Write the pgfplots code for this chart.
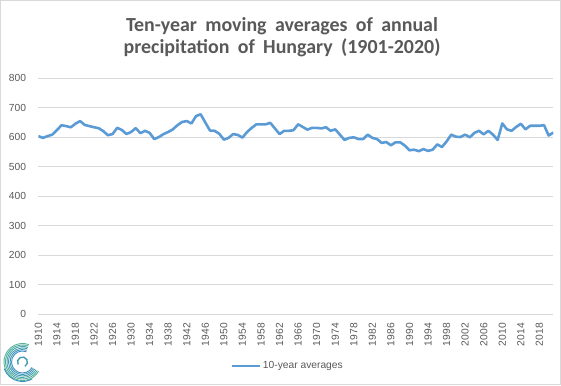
\documentclass[border=0pt]{standalone}
\usepackage{fontspec}
\setmainfont{Liberation Sans}
\newfontfamily\titlefont{Carlito}
\usepackage{pgfplots}
\pgfplotsset{compat=1.18}
\definecolor{linec}{HTML}{5B9BD5}
\definecolor{txt}{HTML}{595959}
\definecolor{gridc}{HTML}{D9D9D9}
\definecolor{logoA}{HTML}{5CBE88}
\definecolor{logoB}{HTML}{3A8EC2}
\newcommand{\ttl}{\titlefont\bfseries\fontsize{20}{24}\selectfont\spaceskip=0.42em\relax}
\begin{document}
\begin{tikzpicture}[x=1bp,y=1bp]
\useasboundingbox (0,0) rectangle (561,385);
\draw[gridc, line width=0.8bp] (0.4,0.4) rectangle (560.6,384.6);
\node[anchor=base, text=txt, font=\ttl, inner sep=0pt] at (282,354) {Ten-year moving averages of annual};
\node[anchor=base, text=txt, font=\ttl, inner sep=0pt] at (282,332) {precipitation of Hungary (1901-2020)};
\begin{axis}[
  at={(38.3bp,71bp)}, anchor=south west,
  scale only axis, width=515bp, height=236bp,
  xmin=1910, xmax=2021, ymin=0, ymax=800,
  xtick={1910,1914,...,2018},
  ytick={0,100,...,800},
  ymajorgrids, major grid style={gridc, line width=0.8bp},
  axis line style={draw=none},
  major tick length=0pt,
  tick label style={font=\fontsize{10.3}{12}\selectfont, text=txt},
  /pgf/number format/assume math mode=true,
  /pgf/number format/1000 sep={},
  xticklabel style={rotate=90, anchor=east, inner sep=0pt},
  yticklabel style={anchor=east, inner sep=0pt},
  xticklabel shift=9bp,
  yticklabel shift=12bp,
  legend style={draw=none, fill=none, at={(0.484,0)}, anchor=center, yshift=-52bp,
    font=\fontsize{10.3}{12}\selectfont, text=txt},
  legend image code/.code={\draw[#1] (0bp,0bp) -- (28bp,0bp);},
]
\addplot[linec, line width=2.6bp, line join=round] coordinates {
(1910,603) (1911,597) (1912,603) (1913,608) (1914,623) (1915,640) (1916,637) (1917,633) (1918,645) (1919,654)
(1920,641) (1921,637) (1922,633) (1923,630) (1924,620) (1925,606) (1926,610) (1927,631) (1928,624) (1929,610)
(1930,617) (1931,630) (1932,613) (1933,621) (1934,614) (1935,593) (1936,600) (1937,610) (1938,617) (1939,626)
(1940,640) (1941,651) (1942,654) (1943,646) (1944,671) (1945,677) (1946,649) (1947,622) (1948,621) (1949,611)
(1950,591) (1951,597) (1952,610) (1953,607) (1954,598) (1955,617) (1956,631) (1957,643) (1958,643) (1959,643)
(1960,648) (1961,629) (1962,610) (1963,621) (1964,621) (1965,623) (1966,643) (1967,634) (1968,625) (1969,631)
(1970,631) (1971,629) (1972,633) (1973,621) (1974,626) (1975,608) (1976,590) (1977,597) (1978,599) (1979,593)
(1980,593) (1981,608) (1982,597) (1983,593) (1984,580) (1985,583) (1986,572) (1987,582) (1988,582) (1989,571)
(1990,555) (1991,557) (1992,552) (1993,559) (1994,553) (1995,557) (1996,575) (1997,566) (1998,585) (1999,608)
(2000,601) (2001,600) (2002,608) (2003,599) (2004,614) (2005,621) (2006,609) (2007,621) (2008,608) (2009,590)
(2010,646) (2011,626) (2012,621) (2013,634) (2014,645) (2015,626) (2016,638) (2017,638) (2018,638) (2019,640)
(2020,605) (2021,615)
};
\addlegendentry{10-year averages}
\end{axis}
% logo
\foreach \r/\p in {11/0,12.5/15,14/30,15.5/45,17/60,18.5/80}{
  \draw[logoA!\p!logoB, line width=0.9bp] ([shift={(70:\r)}]22.5,23) arc[start angle=70, end angle=330, radius=\r];
}
\draw[logoB, line width=0.9bp] ([shift={(200:19.5)}]22.5,23) arc[start angle=200, end angle=300, radius=19.5];
\draw[logoB!70!logoA, line width=1.4bp] ([shift={(210:5)}]22.5,23) arc[start angle=210, end angle=-60, radius=5];
\end{tikzpicture}
\end{document}
